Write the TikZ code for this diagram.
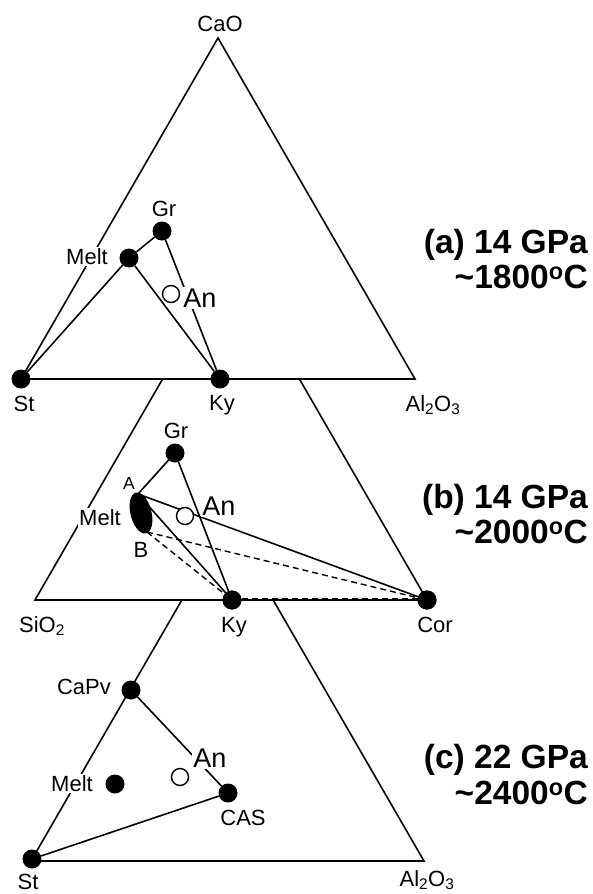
\documentclass[tikz,border=0pt]{standalone}
\usepackage{fontspec}
\setmainfont{Liberation Sans}
\usetikzlibrary{calc}
\newcommand{\lblfont}{\fontsize{22}{26}\selectfont}
\newcommand{\smlfont}{\fontsize{17.5}{20}\selectfont}
\newcommand{\anfont}{\fontsize{27}{30}\selectfont}
\newcommand{\ttlfont}{\fontsize{33.5}{38}\selectfont\bfseries}
\begin{document}
\begin{tikzpicture}[x=1pt,y=-1pt,
  edge/.style={line width=1.6pt},
  dashedge/.style={line width=1.4pt, dash pattern=on 6pt off 4pt},
  dot/.style={circle, fill=black, minimum size=19pt, inner sep=0pt},
  odot/.style={circle, draw=black, fill=white, line width=1.4pt, minimum size=17pt, inner sep=0pt},
  lbl/.style={font=\lblfont, anchor=base, inner sep=1.5pt, fill=white},
  slbl/.style={font=\smlfont, anchor=base, inner sep=1.5pt, fill=white},
  anlbl/.style={font=\anfont, anchor=base, inner sep=1.5pt, fill=white},
  ttl/.style={font=\ttlfont, anchor=base east, inner sep=0pt},
]
\useasboundingbox (0,0) rectangle (592,894);

% ---------------- (a) ----------------
\coordinate (aT) at (218,38);
\coordinate (aL) at (21,379);
\coordinate (aR) at (415,379);
\draw[edge] (aT) -- (aL) -- (aR) -- cycle;

\node[dot] (aSt) at (21,379) {};
\node[dot] (aKy) at (220,379) {};
\node[dot] (aMelt) at (129,258) {};
\node[dot] (aGr) at (162,231) {};
\node[odot] (aAn) at (171,294) {};

\draw[edge] (aSt) -- (aMelt);
\draw[edge] (aMelt) -- (aGr);
\draw[edge] (aMelt) -- (aKy);
\draw[edge] (aGr) -- (aKy);

\node[lbl] (aCaOl) at (220,31) {CaO};
\node[lbl] (aGrl) at (164,216) {Gr};
\node[lbl] (aMeltl) at (87,264) {Melt};
\node[anlbl] (aAnl) at (200,307) {An};
\node[lbl] (aStl) at (24,411) {St};
\node[lbl] (aKyl) at (222,410) {Ky};
\node[lbl] (aAll) at (433,411) {Al\textsubscript{2}O\textsubscript{3}};
\node[ttl] (aT1) at (588,253.5) {(a) 14 GPa};
\node[ttl] (aT2) at (588,288.5) {\textasciitilde1800\textsuperscript{o}C};

% ---------------- (b) ----------------
\coordinate (bT) at (231,260.5);
\coordinate (bL) at (35,600);
\coordinate (bR) at (427,600);
\coordinate (bLi) at (intersection of bT--bL and aL--aR);
\coordinate (bRi) at (intersection of bT--bR and aL--aR);
\draw[edge] (bLi) -- (bL) -- (bR) -- (bRi);

\coordinate (bA) at (138,494);
\coordinate (bB) at (147,532);
\node[dot] (bGr) at (175,453) {};
\node[dot] (bKy) at (232,600) {};
\node[dot] (bCor) at (427,600) {};

\draw[edge] (bA) -- (bGr);
\draw[edge] (bGr) -- (bKy);
\draw[edge] (bA) -- (bKy);
\draw[edge] (bA) -- (bCor);
\draw[dashedge] (bB) -- (bKy);
\draw[dashedge] (bB) -- (bCor);
\draw[dashedge] ([yshift=1.5pt]bKy.center) -- ([yshift=1.5pt]bCor.center);

\fill (141,513) ellipse [x radius=10.5, y radius=21, rotate=14];
\node[odot] (bAn) at (185,516) {};
\node[dot] (bKy2) at (232,600) {};
\node[dot] (bCor2) at (427,600) {};

\node[lbl] (bGrl) at (176,438) {Gr};
\node[slbl] (bAl) at (129,489) {A};
\node[lbl] (bMeltl) at (100,525) {Melt};
\node[lbl] (bBl) at (141,557) {B};
\node[anlbl] (bAnl) at (219,515) {An};
\node[lbl] (bSil) at (42,632) {SiO\textsubscript{2}};
\node[lbl] (bKyl) at (234,632) {Ky};
\node[lbl] (bCorl) at (435,632) {Cor};
\node[ttl] (bT1) at (588,508.5) {(b) 14 GPa};
\node[ttl] (bT2) at (588,543.5) {\textasciitilde2000\textsuperscript{o}C};

% ---------------- (c) ----------------
\coordinate (cT) at (227.5,521);
\coordinate (cL) at (31,861);
\coordinate (cR) at (424,861);
\coordinate (cLi) at (intersection of cT--cL and bL--bR);
\coordinate (cRi) at (intersection of cT--cR and bL--bR);
\draw[edge] (cLi) -- (cL) -- (cR) -- (cRi);

\node[dot] (cSt) at (32,859) {};
\node[dot] (cCaPv) at (131,690) {};
\node[dot] (cMelt) at (115,784) {};
\node[dot] (cCAS) at (228,793) {};
\node[odot] (cAn) at (180,777) {};

\draw[edge] (cCaPv) -- (cCAS);
\draw[edge] (cSt) -- (cCAS);

\node[lbl] (cCaPvl) at (84,694) {CaPv};
\node[anlbl] (cAnl) at (210,767) {An};
\node[lbl] (cMeltl) at (72,791) {Melt};
\node[lbl] (cCASl) at (243,825) {CAS};
\node[lbl] (cStl) at (28,889) {St};
\node[lbl] (cAll) at (427,886) {Al\textsubscript{2}O\textsubscript{3}};
\node[ttl] (cT1) at (588,768.5) {(c) 22 GPa};
\node[ttl] (cT2) at (588,804.5) {\textasciitilde2400\textsuperscript{o}C};
\end{tikzpicture}
\end{document}
